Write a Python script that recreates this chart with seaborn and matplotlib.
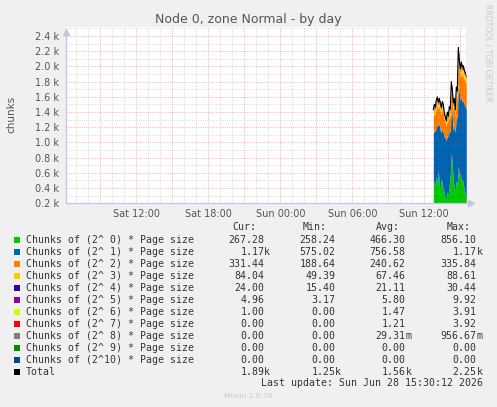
#!/usr/bin/env python3
# -*- coding: utf-8 -*-
"""
Munin buddyinfo style chart: Node 0, zone Normal - by day
"""

import pandas as pd
import matplotlib
matplotlib.use("Agg")
import matplotlib.pyplot as plt
import matplotlib.dates as mdates
from matplotlib.ticker import FuncFormatter, MultipleLocator
from matplotlib.patches import Rectangle
import seaborn as sns

# ----------------------------
# data (5 minute samples, Sun 12:45 -> 15:30)
# ----------------------------
first_sample = "2026-06-28 12:45"
view_start = "2026-06-27 06:10"
view_end = "2026-06-28 15:30"

order_2_0 = [450, 500, 420, 550, 480, 630, 440, 400, 520, 450, 380, 330, 280, 260, 350, 300, 450,
             560, 856, 700, 480, 420, 360, 500, 450, 690, 550, 600, 480, 520, 450, 380, 320, 267]
order_2_1 = [670, 658, 724, 657, 751, 591, 804, 758, 610, 744, 748, 747, 774, 765, 747, 774, 711,
             587, 598, 644, 668, 830, 767, 878, 861, 1101, 1097, 953, 1137, 1014, 1092, 1118, 1150, 1170]
order_2_2 = [220, 240, 230, 250, 260, 220, 240, 260, 240, 250, 270, 230, 210, 190, 220, 200, 220,
             210, 240, 250, 270, 240, 220, 250, 260, 330, 310, 300, 320, 330, 336, 330, 330, 331]
order_2_3 = [60, 70, 65, 70, 75, 60, 65, 70, 60, 65, 70, 55, 50, 50, 55, 50, 60,
             55, 70, 65, 70, 60, 55, 70, 75, 89, 85, 80, 85, 87, 88, 86, 85, 84]
order_2_4 = [20, 22, 21, 23, 24, 19, 21, 22, 20, 21, 22, 18, 16, 15, 18, 16, 19,
             18, 22, 21, 22, 20, 18, 22, 24, 30, 28, 27, 28, 29, 30, 26, 25, 24]
order_2_5 = [5, 6, 5, 6, 7, 5, 6, 6, 5, 6, 6, 4, 4, 3, 4, 3, 5,
             4, 6, 5, 6, 5, 4, 6, 7, 10, 9, 8, 9, 8, 9, 6, 5, 5]
order_2_6 = [2, 1, 1, 2, 3, 1, 2, 1, 1, 2, 1, 0, 0, 0, 1, 0, 1,
             0, 2, 1, 2, 1, 0, 2, 3, 4, 3, 2, 3, 2, 2, 1, 1, 1]
order_2_7 = [1, 1, 0, 1, 2, 0, 1, 1, 0, 1, 1, 0, 0, 0, 0, 0, 1,
             0, 1, 1, 1, 0, 0, 1, 2, 4, 3, 2, 2, 1, 1, 0, 0, 0]
order_2_8 = [0, 0, 0, 0, 0, 0, 0, 0, 0, 0, 0, 0, 0, 0, 0, 0, 0,
             0, 0, 0, 0, 0, 0, 0, 0, 1, 0, 0, 0, 0, 0, 0, 0, 0]
order_2_9 = [0] * 34
order_2_10 = [0] * 34
total = [1430, 1500, 1470, 1560, 1600, 1530, 1580, 1520, 1460, 1540, 1500, 1390, 1340, 1290, 1400, 1350, 1470,
         1440, 1800, 1690, 1520, 1580, 1430, 1730, 1680, 2250, 2080, 1970, 2060, 1990, 2010, 1950, 1920, 1890]

series_labels = [f"Chunks of (2^{i:2d}) * Page size" for i in range(11)] + ["Total"]
series_colors = ["#00CC00", "#0066B3", "#FF8000", "#FFCC00", "#330099", "#990099",
                 "#CCFF00", "#FF0000", "#808080", "#008F00", "#00487D", "#000000"]

cur_vals = ["267.28", "1.17k", "331.44", "84.04", "24.00", "4.96", "1.00", "0.00", "0.00", "0.00", "0.00", "1.89k"]
min_vals = ["258.24", "575.02", "188.64", "49.39", "15.40", "3.17", "0.00", "0.00", "0.00", "0.00", "0.00", "1.25k"]
avg_vals = ["466.30", "756.58", "240.62", "67.46", "21.11", "5.80", "1.47", "1.21", "29.31m", "0.00", "0.00", "1.56k"]
max_vals = ["856.10", "1.17k", "335.84", "88.61", "30.44", "9.92", "3.91", "3.92", "956.67m", "0.00", "0.00", "2.25k"]

# ----------------------------
# style
# ----------------------------
sns.set_style("white")
plt.rcParams["font.family"] = ["DejaVu Sans"]

W, H = 497, 407
BG = "#F0F0F0"
TXT = "#555555"
AXC = "#C4C4E6"
MONO = "DejaVu Sans Mono"


def fx(px):
    return px / W


def fy(py):
    return 1 - py / H


fig = plt.figure(figsize=(W / 100, H / 100), dpi=100, facecolor=BG)
ax = fig.add_axes([fx(66.3), fy(203.3), 400 / W, (203.3 - 26.9) / H])
ax.set_facecolor("white")

times = mdates.date2num(pd.date_range(first_sample, periods=len(total), freq="5min").to_pydatetime())
stack = [order_2_0, order_2_1, order_2_2, order_2_3, order_2_4, order_2_5,
         order_2_6, order_2_7, order_2_8, order_2_9, order_2_10]
ax.stackplot(times, *stack, colors=series_colors[:11], linewidth=0, zorder=1)
sns.lineplot(x=times, y=total, color="black", linewidth=0.8, ax=ax, zorder=3)

ax.set_xlim(mdates.date2num(pd.Timestamp(view_start)), mdates.date2num(pd.Timestamp(view_end)))
ax.set_ylim(200, 2520)

# grid: major red every 3h / 0.2k, minor grey every 1h / 0.1k (on top of areas)
ax.xaxis.set_major_locator(mdates.HourLocator(byhour=range(0, 24, 3)))
ax.xaxis.set_minor_locator(mdates.HourLocator())


def xfmt(v, pos):
    d = mdates.num2date(v)
    return d.strftime("%a %H:%M") if d.hour % 6 == 0 else ""


ax.xaxis.set_major_formatter(FuncFormatter(xfmt))
ax.yaxis.set_major_locator(MultipleLocator(200))
ax.yaxis.set_minor_locator(MultipleLocator(100))
ax.yaxis.set_major_formatter(FuncFormatter(lambda v, p: f"{v / 1000:.1f} k"))

ax.set_axisbelow(False)
ax.grid(which="minor", color="black", alpha=0.14, linestyle=(0, (1, 1.2)), linewidth=0.72, zorder=2)
ax.grid(which="major", color="red", alpha=0.3, linestyle=(0, (1, 1.2)), linewidth=0.72, zorder=2)

ax.tick_params(axis="both", which="both", length=0, labelsize=7, labelcolor=TXT)
ax.tick_params(axis="y", pad=5)
ax.tick_params(axis="x", pad=4)
ax.set_xlabel("")
ax.set_ylabel("")

for s in ax.spines.values():
    s.set_visible(False)

# axis lines with arrows
ax.plot([0, 1.01], [0, 0], color=AXC, linewidth=0.9, transform=ax.transAxes, clip_on=False, zorder=4)
ax.plot([0, 0], [0, 0.97], color=AXC, linewidth=0.9, transform=ax.transAxes, clip_on=False, zorder=4)
ax.plot([1.0125], [0], marker=">", markersize=4.5, color=AXC, transform=ax.transAxes, clip_on=False, zorder=4)
ax.plot([0], [0.97], marker="^", markersize=4.5, color=AXC, transform=ax.transAxes, clip_on=False, zorder=4)

# titles
fig.text(0.5, fy(19), "Node 0, zone Normal - by day", ha="center", va="center", fontsize=9, color=TXT)
fig.text(fx(11), fy(114), "chunks", rotation=90, ha="center", va="center", fontsize=7.5, color=TXT)
fig.text(fx(488), fy(53), "RRDTOOL / TOBI OETIKER", rotation=270, ha="center", va="center",
         fontsize=5.5, color="#C8C8C8")

# ----------------------------
# legend table
# ----------------------------
LEG = "#333333"
MS = 7.15
headers = [("Cur:", 244), ("Min:", 315), ("Avg:", 388), ("Max:", 458.5)]
for h, x in headers:
    fig.text(fx(x), fy(227.3), h, ha="center", va="center", family=MONO, fontsize=MS, color=LEG)

col_ends = [264.3, 335.3, 405.7, 476.7]
for i, lab in enumerate(series_labels):
    y = 239.7 + 12 * i
    fig.add_artist(Rectangle((fx(14), fy(y + 3)), 6 / W, 6 / H, transform=fig.transFigure,
                             facecolor=series_colors[i], edgecolor="none"))
    fig.text(fx(26), fy(y), lab, ha="left", va="center", family=MONO, fontsize=MS, color=LEG)
    for vals, xe in zip([cur_vals, min_vals, avg_vals, max_vals], col_ends):
        s = vals[i]
        num, suf = (s[:-1], s[-1]) if s[-1] in "km" else (s, "")
        fig.text(fx(xe), fy(y), num, ha="right", va="center", family=MONO, fontsize=MS, color=LEG)
        if suf:
            fig.text(fx(xe), fy(y), suf, ha="left", va="center", family=MONO, fontsize=MS, color=LEG)

fig.text(fx(483), fy(383), "Last update: Sun Jun 28 15:30:12 2026", ha="right", va="center",
         family=MONO, fontsize=MS, color=LEG)
fig.text(0.5, fy(396), "Munin 2.0.76", ha="center", va="center", fontsize=5.3, color="#C8C8C8")

fig.savefig("out.png", dpi=100, facecolor=BG)
